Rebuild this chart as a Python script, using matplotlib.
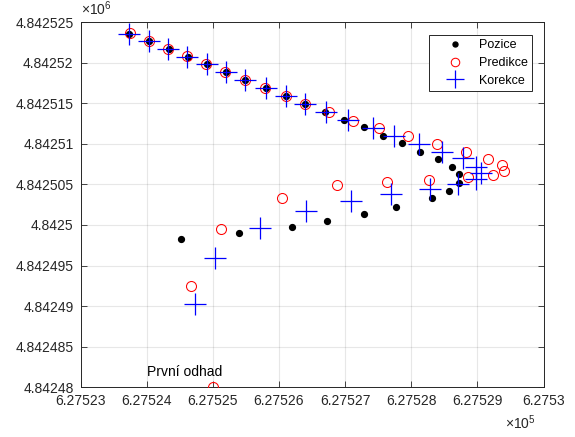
import matplotlib
matplotlib.use("Agg")
import matplotlib.pyplot as plt
from matplotlib.ticker import FuncFormatter, MultipleLocator

plt.rcParams['font.family'] = ['Liberation Sans', 'DejaVu Sans']
plt.rcParams['mathtext.fontset'] = 'custom'
plt.rcParams['mathtext.rm'] = 'Liberation Sans'

# Measured positions (UTM easting / northing)
pozice_x = [627524.52, 627525.39, 627526.20, 627526.72, 627527.28, 627527.77, 627528.31,
            627528.57, 627528.72, 627528.72, 627528.62, 627528.40, 627528.13, 627527.86,
            627527.58, 627527.29, 627526.99, 627526.70, 627526.40, 627526.11, 627525.80,
            627525.49, 627525.20, 627524.91, 627524.63, 627524.34, 627524.04, 627523.74]
pozice_y = [4842498.31, 4842499.01, 4842499.81, 4842500.45, 4842501.35, 4842502.22, 4842503.32,
            4842504.22, 4842505.21, 4842506.24, 4842507.14, 4842508.13, 4842509.03, 4842510.06,
            4842511.00, 4842512.04, 4842512.94, 4842513.92, 4842514.87, 4842515.86, 4842516.84,
            4842517.83, 4842518.85, 4842519.84, 4842520.73, 4842521.72, 4842522.71, 4842523.57]

# Filter predictions (first one is the initial guess)
predikce_x = [627525.00, 627524.67, 627525.12, 627526.04, 627526.88, 627527.63, 627528.27,
              627528.86, 627529.24, 627529.40, 627529.37, 627529.16, 627528.83, 627528.39,
              627527.95, 627527.51, 627527.12, 627526.75, 627526.40, 627526.10, 627525.79,
              627525.49, 627525.19, 627524.90, 627524.61, 627524.32, 627524.04, 627523.75]
predikce_y = [4842480.00, 4842492.52, 4842499.50, 4842503.36, 4842504.89, 4842505.33, 4842505.54,
              4842505.91, 4842506.16, 4842506.65, 4842507.39, 4842508.09, 4842509.03, 4842509.94,
              4842511.00, 4842511.95, 4842512.85, 4842513.92, 4842514.91, 4842515.93, 4842516.92,
              4842517.83, 4842518.85, 4842519.84, 4842520.78, 4842521.72, 4842522.71, 4842523.62]

# Filter corrections (updated estimates)
korekce_x = [627524.73, 627525.04, 627525.72, 627526.41, 627527.09, 627527.70, 627528.29,
             627528.71, 627528.98, 627529.05, 627528.98, 627528.78, 627528.46, 627528.12,
             627527.74, 627527.42, 627527.05, 627526.71, 627526.40, 627526.11, 627525.80,
             627525.49, 627525.20, 627524.91, 627524.61, 627524.33, 627524.04, 627523.74]
korekce_y = [4842490.23, 4842495.89, 4842499.66, 4842501.76, 4842502.95, 4842503.78, 4842504.40,
             4842505.05, 4842505.67, 4842506.40, 4842507.14, 4842508.22, 4842508.96, 4842509.94,
             4842511.00, 4842511.91, 4842512.94, 4842513.92, 4842514.87, 4842515.86, 4842516.84,
             4842517.83, 4842518.85, 4842519.84, 4842520.73, 4842521.72, 4842522.71, 4842523.57]

labels = ['Pozice', 'Predikce', 'Korekce']
annotation = 'První odhad'

x_limits = (627523, 627530)
y_limits = (4842480, 4842525)

axis_gray = (0.15, 0.15, 0.15)

fig = plt.figure(figsize=(5.75, 4.37), dpi=100)
ax = fig.add_axes([80.5 / 575, 1 - 387.3 / 437, 463 / 575, 365.2 / 437])

ax.plot(pozice_x, pozice_y, linestyle='none', marker='o', ms=4.2,
        color='black', mec='black', label=labels[0], zorder=3)
ax.plot(predikce_x, predikce_y, linestyle='none', marker='o', ms=7.2,
        mfc='none', mec='red', mew=0.75, label=labels[1], zorder=4)
ax.plot(korekce_x, korekce_y, linestyle='none', marker='+', ms=15.5,
        color='blue', mew=0.9, label=labels[2], zorder=5)

ax.text(predikce_x[0] - 1, predikce_y[0] + 1.85, annotation, fontsize=10,
        ha='left', va='center', color='black')

ax.set_xlim(*x_limits)
ax.set_ylim(*y_limits)
ax.xaxis.set_major_locator(MultipleLocator(1))
ax.yaxis.set_major_locator(MultipleLocator(5))
ax.xaxis.set_major_formatter(FuncFormatter(lambda v, p: '{:.9g}'.format(v / 1e5)))
ax.yaxis.set_major_formatter(FuncFormatter(lambda v, p: '{:.9g}'.format(v / 1e6)))

ax.grid(True, color=(0.15, 0.15, 0.15), alpha=0.11, linewidth=0.8)
ax.set_axisbelow(True)
ax.tick_params(direction='in', length=4, width=0.6, colors=axis_gray,
               labelsize=10, top=True, right=True, pad=5)
for s in ax.spines.values():
    s.set_color(axis_gray)
    s.set_linewidth(0.7)

ax.text(0.0, 1.012, r'$\times\mathregular{10^{6}}$', transform=ax.transAxes,
        ha='left', va='bottom', fontsize=10, color=axis_gray)
ax.text(0.983, -0.072, r'$\times\mathregular{10^{5}}$', transform=ax.transAxes,
        ha='right', va='top', fontsize=10, color=axis_gray)

leg = ax.legend(loc='upper right', bbox_to_anchor=(0.975, 0.9647), borderaxespad=0,
                fancybox=False, edgecolor=axis_gray, fontsize=9, labelspacing=0.45,
                handlelength=3.5, handletextpad=0.15, borderpad=0.35, framealpha=1,
                markerscale=0.85)
leg.get_frame().set_linewidth(0.7)

fig.savefig('out.png', dpi=100)
